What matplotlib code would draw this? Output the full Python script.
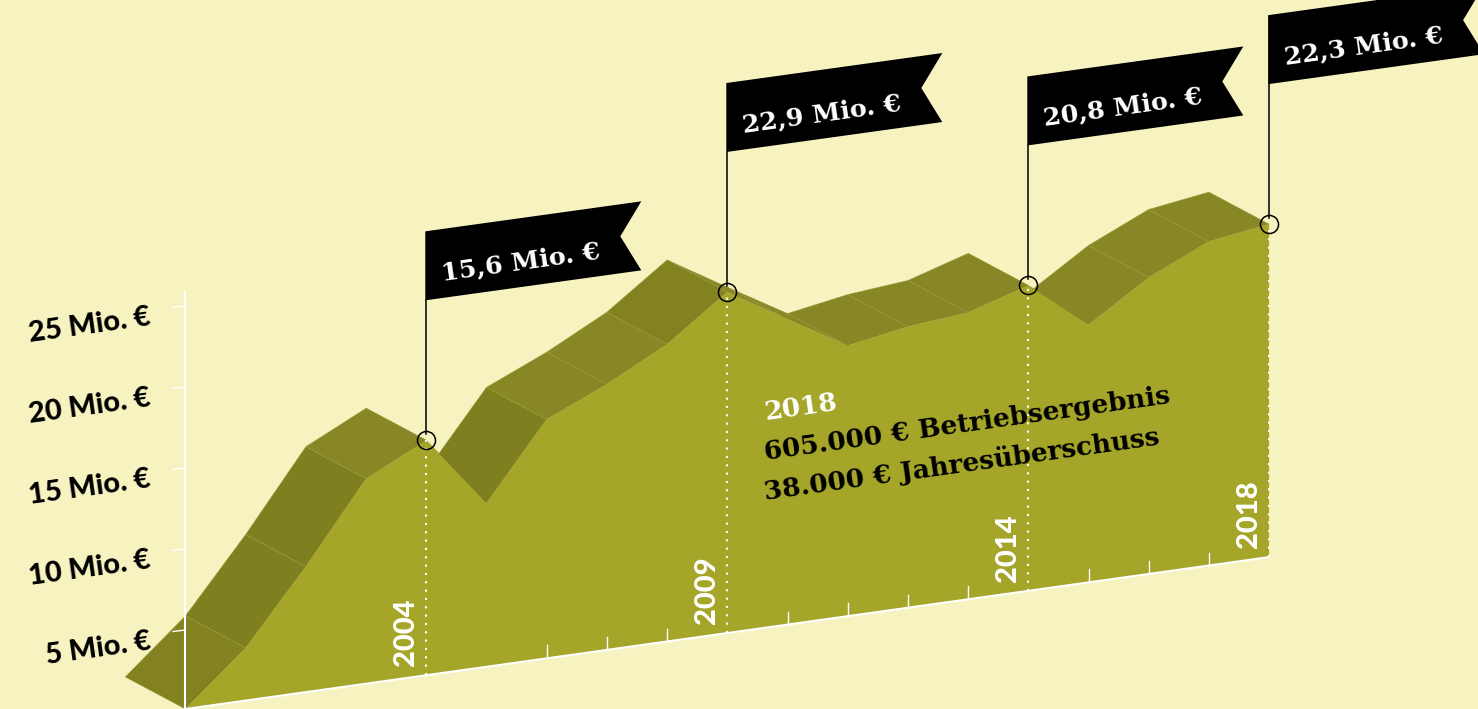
import numpy as np
import matplotlib
matplotlib.use('Agg')
import matplotlib.pyplot as plt
from matplotlib.patches import Polygon
from matplotlib.transforms import Affine2D

YEARS = list(range(2000, 2019))
# heights read against the skewed axis on the left
VALUES = [0, 3.25, 7.75, 12.65, 14.5, 10.1, 14.75, 16.4, 18.35, 21.05,
          18.85, 16.7, 17.35, 17.7, 18.85, 15.9, 18.3, 20.0, 20.55]
AXIS_TICKS = [5, 10, 15, 20, 25]
AXIS_LABELS = ['5 Mio. €', '10 Mio. €', '15 Mio. €', '20 Mio. €', '25 Mio. €']
MINOR_YEARS = [2006, 2007, 2008, 2010, 2011, 2012, 2013, 2015, 2016, 2017]
FLAG_YEARS = [2004, 2009, 2014, 2018]
FLAG_LABELS = ['15,6 Mio. €', '22,9 Mio. €', '20,8 Mio. €', '22,3 Mio. €']
INFO_LINES = ['2018', '605.000 € Betriebsergebnis', '38.000 € Jahresüberschuss']

BG = '#f7f3c1'
FRONT = '#a5a52a'
DARK = '#7e7f1e'
MID = '#838220'
LIGHT = '#888725'
SLAB = 'DejaVu Serif'
SANS = 'Lato'
ANGLE = 8

fig = plt.figure(figsize=(14.78, 7.09), dpi=100, facecolor=BG)
ax = fig.add_axes([0, 0, 1, 1])
ax.set_xlim(0, 1478)
ax.set_ylim(709, 0)
ax.axis('off')

# (year, value) -> pixels, x steps right and the baseline climbs
to_px = Affine2D.from_values(60.2, -8.44, 0, -16.2, 185.5 - 60.2 * 2000, 709 + 8.44 * 2000)
skew = to_px + ax.transData
DEPTH_YEAR = -1
DEPTH_VALUE = 2.5

# side faces of the ribbon, the falling ones sit behind the rising ones
for i in range(len(YEARS) - 1):
    y0, y1 = YEARS[i], YEARS[i + 1]
    v0, v1 = VALUES[i], VALUES[i + 1]
    rise = v1 - v0
    if rise > 4:
        color = DARK
    elif rise > 2.5:
        color = MID
    else:
        color = LIGHT
    pts = [(y0, v0), (y0 + DEPTH_YEAR, v0 + DEPTH_VALUE),
           (y1 + DEPTH_YEAR, v1 + DEPTH_VALUE), (y1, v1)]
    ax.add_patch(Polygon(pts, closed=True, facecolor=color, edgecolor='#9a9a3c', linewidth=0.4,
                         transform=skew, zorder=3 if rise > 0 else 2))

front = list(zip(YEARS, VALUES)) + [(YEARS[-1], 0)]
ax.add_patch(Polygon(front, closed=True, facecolor=FRONT, edgecolor='none', transform=skew, zorder=4))

# baseline and small year ticks
ax.plot([YEARS[0], YEARS[-1]], [0, 0], color='white', lw=1.5, transform=skew, zorder=5, solid_capstyle='butt')
for year in MINOR_YEARS:
    ax.plot([year, year], [0, 0.8], color='white', lw=1.0, transform=skew, zorder=5)

# value axis
ax.plot([185, 185], [292, 709], color='white', lw=1.5, zorder=5)
for tick, label in zip(AXIS_TICKS, AXIS_LABELS):
    tick_y = 711 - 16.2 * tick
    ax.plot([173, 185], [tick_y + 1.5, tick_y], color='white', lw=1.0, zorder=5)
    ax.text(152, tick_y + 19, label, family=SANS, weight='black', fontsize=20.8, color='black',
            rotation=ANGLE, rotation_mode='anchor', ha='right', va='baseline', zorder=6)

# flags, poles and year labels
for year, label in zip(FLAG_YEARS, FLAG_LABELS):
    value = VALUES[YEARS.index(year)]
    px, base = to_px.transform((year, 0))
    top = to_px.transform((year, value))[1]
    ax.plot([px, px], [base, top], color='white', lw=1.5, ls=(0, (1, 3)), zorder=5)
    ax.text(px - 20, base - 9, str(year), family=SANS, weight='black', fontsize=21, color='white',
            rotation=90, ha='center', va='bottom', zorder=6)
    ax.plot([px], [top], marker='o', ms=13, mfc='none', mec='black', mew=1.1, zorder=7)
    flag_y = top - 140
    ax.plot([px, px], [top - 6.5, flag_y], color='black', lw=1.1, zorder=7)
    left = px - 1
    shape = [(0, 0), (0, -69), (216, -99), (195, -64), (216, -30)]
    ax.add_patch(Polygon([(left + dx, flag_y + dy) for dx, dy in shape], closed=True,
                         facecolor='black', edgecolor='none', zorder=7))
    ax.text(left + 17, flag_y - 20, label, family=SLAB, weight='bold', fontsize=18.3, color='white',
            rotation=ANGLE, rotation_mode='anchor', ha='left', va='baseline', zorder=8)

# 2018 note on the front face
for line_y, line, color in zip([420, 460, 500], INFO_LINES, ['white', 'black', 'black']):
    ax.text(765, line_y, line, family=SLAB, weight='bold', fontsize=19, color=color,
            rotation=ANGLE, rotation_mode='anchor', ha='left', va='baseline', zorder=6)

fig.savefig('out.png', dpi=100, facecolor=BG)
